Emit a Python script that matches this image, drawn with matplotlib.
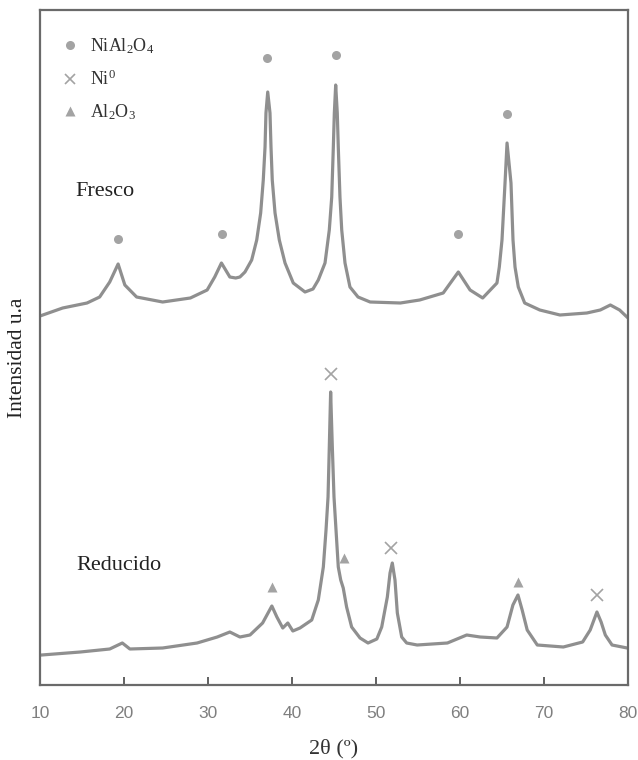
import matplotlib
matplotlib.use("Agg")
import matplotlib.pyplot as plt
from matplotlib.lines import Line2D

plt.rcParams['mathtext.fontset'] = 'custom'
plt.rcParams['mathtext.rm'] = 'Liberation Serif'
plt.rcParams['mathtext.it'] = 'Liberation Serif:italic'

# ---- data ----
fresco_2theta = [10.0, 12.7, 15.6, 17.1, 18.3, 19.3, 20.1, 21.5, 24.6, 27.9, 29.9, 30.8,
                 31.6, 32.6, 33.3, 33.8, 34.4, 35.2, 35.8, 36.27, 36.58, 36.79, 36.9, 37.11,
                 37.38, 37.5, 37.65, 37.98, 38.49, 39.17, 40.15, 41.55, 42.5, 43.13, 43.93,
                 44.44, 44.73, 44.92, 45.04, 45.2, 45.39, 45.51, 45.71, 45.92, 46.31, 46.9,
                 47.86, 49.3, 52.9, 55.2, 58.0, 59.8, 61.2, 62.7, 64.4, 64.68, 65.0, 65.36,
                 65.6, 66.07, 66.31, 66.55, 66.94, 67.7, 69.5, 71.9, 75.1, 76.7, 77.9, 79.0, 80.0]
fresco_int = [369, 377, 382, 388, 403, 421, 400, 388, 383, 387, 395, 408,
              422, 408, 407, 408, 413, 425, 445, 472, 505, 538, 572, 593,
              572, 538, 505, 472, 445, 422, 402, 393, 396, 405, 422,
              455, 488, 538, 572, 600, 572, 538, 488, 455, 422, 398,
              388, 383, 382, 385, 392, 413, 395, 387, 402, 418, 445, 502,
              542, 502, 445, 418, 398, 382, 375, 370, 372, 375, 380, 375, 367]

reducido_2theta = [10.2, 14.8, 18.3, 19.8, 20.7, 24.6, 28.7, 31.1, 32.6, 33.8, 35.0, 36.5,
                   37.6, 38.2, 38.9, 39.5, 40.1, 40.95, 42.35, 43.13, 43.73, 44.05, 44.29,
                   44.44, 44.6, 44.8, 45.0, 45.24, 45.51, 45.8, 46.1, 46.5, 47.1, 48.1,
                   49.05, 50.1, 50.68, 51.35, 51.67, 51.94, 52.26, 52.54, 53.06, 53.65,
                   54.9, 58.5, 60.8, 62.4, 64.4, 65.6, 66.3, 66.9, 67.4, 68.0, 69.2, 72.3,
                   74.6, 75.5, 76.3, 76.8, 77.3, 78.1, 79.9]
reducido_int = [30, 33, 36, 42, 36, 37, 42, 48, 53, 48, 50, 62,
                79, 68, 57, 62, 54, 57, 65, 85, 118, 155, 188,
                238, 293, 238, 188, 155, 118, 105, 97, 78, 58, 47,
                42, 46, 58, 88, 112, 122, 105, 72, 48, 42,
                40, 42, 50, 48, 47, 58, 80, 90, 75, 55, 40, 38,
                43, 55, 73, 63, 50, 40, 37]

nial2o4_x = [19.3, 31.7, 37.0, 45.2, 59.8, 65.6]
nial2o4_y = [446, 451, 627, 630, 451, 571]
ni0_x = [44.6, 51.8, 76.3]
ni0_y = [311, 137, 90]
al2o3_x = [37.6, 46.2, 66.9]
al2o3_y = [98, 127, 103]

xticks = [10, 20, 30, 40, 50, 60, 70, 80]
legend_labels = ['NiAl$_2$O$_4$', 'Ni$^0$', 'Al$_2$O$_3$']

# ---- figure ----
fig = plt.figure(figsize=(6.38, 7.6), dpi=100)
ax = fig.add_axes([40/638, 75/760, 588/638, 675/760])

line_c = '#8f8f8f'
mark_c = '#a3a3a3'
serif = 'Liberation Serif'

ax.plot(fresco_2theta, fresco_int, color=line_c, lw=2.3, solid_joinstyle='round')
ax.plot(reducido_2theta, reducido_int, color=line_c, lw=2.3, solid_joinstyle='round')

ax.plot(nial2o4_x, nial2o4_y, 'o', color=mark_c, ms=6.5, mec='none')
ax.plot(ni0_x, ni0_y, 'x', color=mark_c, ms=8, mew=1.2)
ax.plot(al2o3_x, al2o3_y, '^', color=mark_c, ms=6.5, mec='none')

handles = [Line2D([], [], ls='none', marker='o', color=mark_c, ms=6.5, mec='none'),
           Line2D([], [], ls='none', marker='x', color=mark_c, ms=7, mew=1.2),
           Line2D([], [], ls='none', marker='^', color=mark_c, ms=6.5, mec='none')]
leg = ax.legend(handles, legend_labels, loc='upper left', frameon=False,
                prop={'family': serif, 'size': 13}, handletextpad=0.5,
                labelspacing=0.75, bbox_to_anchor=(0.005, 0.985), handlelength=1.2)
for t in leg.get_texts():
    t.set_color('#333333')

ax.text(14.2, 493, 'Fresco', family=serif, fontsize=16, va='center', ha='left', color='#222222')
ax.text(14.3, 120, 'Reducido', family=serif, fontsize=16, va='center', ha='left', color='#222222')

ax.set_xlim(10, 80)
ax.set_ylim(0, 675)
ax.set_xticks(xticks)
ax.set_xticklabels([str(t) for t in xticks], family='Liberation Sans', fontsize=12.5, color='#7f7f7f')
ax.set_yticks([])
ax.tick_params(axis='x', direction='in', length=6, width=1.3, color='#555555', pad=15)

for s in ax.spines.values():
    s.set_color('#6a6a6a')
    s.set_linewidth(1.6)

ax.set_xlabel('2θ (º)', family=serif, fontsize=16, color='#333333', labelpad=13)
ax.set_ylabel('Intensidad u.a', family=serif, fontsize=15.5, color='#222222', labelpad=4)
ax.yaxis.set_label_coords(-0.022, 0.485)

fig.savefig('out.png', dpi=100)
